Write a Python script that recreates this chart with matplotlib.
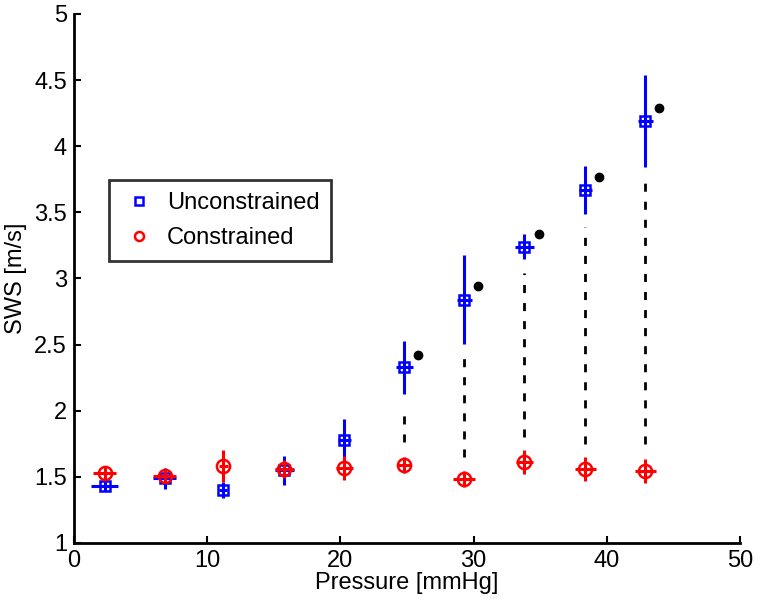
import matplotlib
matplotlib.use("Agg")
import matplotlib.pyplot as plt

plt.rcParams["font.family"] = ["Liberation Sans", "DejaVu Sans"]
plt.rcParams["lines.scale_dashes"] = False

# pressure positions [mmHg] and their spread
pressure = [2.3, 6.8, 11.2, 15.8, 20.3, 24.8, 29.3, 33.8, 38.4, 42.9]
unc_xerr = [1.0, 0.88, 0.3, 0.73, 0.46, 0.63, 0.56, 0.7, 0.46, 0.56]
con_xerr = [0.88, 0.85, 0.35, 0.7, 0.63, 0.5, 0.83, 0.63, 0.81, 0.79]

# SWS [m/s]
unc_sws = [1.43, 1.49, 1.40, 1.55, 1.78, 2.33, 2.84, 3.24, 3.67, 4.19]
unc_err = [0.04, 0.08, 0.06, 0.11, 0.16, 0.20, 0.335, 0.095, 0.18, 0.35]
con_sws = [1.53, 1.51, 1.58, 1.56, 1.57, 1.59, 1.486, 1.61, 1.557, 1.547]
con_err = [0.053, 0.05, 0.12, 0.07, 0.09, 0.06, 0.06, 0.09, 0.09, 0.09]

# significance markers and dashed connectors (points 6..10)
sig_x = [25.8, 30.3, 34.9, 39.4, 43.9]
sig_y = [2.42, 2.94, 3.34, 3.765, 4.29]
dash_x = [24.8, 29.3, 33.8, 38.4, 42.9]
dash_lo = [1.76, 1.65, 1.80, 1.75, 1.75]
dash_hi = [1.97, 2.41, 3.04, 3.39, 3.72]

xticks = [0, 10, 20, 30, 40, 50]
yticks = [1, 1.5, 2, 2.5, 3, 3.5, 4, 4.5, 5]
ytick_labels = ["1", "1.5", "2", "2.5", "3", "3.5", "4", "4.5", "5"]

FS = 17

fig = plt.figure(figsize=(7.62, 6.05), dpi=100)
ax = fig.add_axes([0.0971, 0.1025, 0.874, 0.8744])

for x, lo, hi in zip(dash_x, dash_lo, dash_hi):
    ax.plot([x, x], [lo, hi], color="black", lw=2, dashes=(5.8, 7.2), zorder=1)

ax.errorbar(pressure, unc_sws, yerr=unc_err, xerr=unc_xerr, fmt="s",
            color="blue", mfc="none", mec="blue", ms=7, mew=1.8,
            elinewidth=2.2, capsize=0, zorder=2)
ax.errorbar(pressure, con_sws, yerr=con_err, xerr=con_xerr, fmt="o",
            color="red", mfc="none", mec="red", ms=9.5, mew=1.8,
            elinewidth=2.2, capsize=0, zorder=3)
ax.plot(sig_x, sig_y, "o", color="black", ms=6, zorder=4)

# legend proxies
h1, = ax.plot([], [], "s", mfc="none", mec="blue", ms=6, mew=1.8,
              label="Unconstrained")
h2, = ax.plot([], [], "o", mfc="none", mec="red", ms=6.5, mew=1.8,
              label="Constrained")
leg = ax.legend(handles=[h1, h2], loc="upper left",
                bbox_to_anchor=(0.0526, 0.686), fontsize=FS,
                frameon=True, fancybox=False, borderpad=0.5,
                handlelength=1.5, handletextpad=0.45, labelspacing=0.55,
                borderaxespad=0)
leg.get_frame().set_edgecolor("black")
leg.get_frame().set_linewidth(2)

ax.set_xlim(0, 50)
ax.set_ylim(1, 5)
ax.set_xticks(xticks)
ax.set_yticks(yticks)
ax.set_yticklabels(ytick_labels)
ax.tick_params(direction="in", length=5, width=1.5, labelsize=FS, pad=5)
for side in ("top", "right"):
    ax.spines[side].set_visible(False)
for side in ("left", "bottom"):
    ax.spines[side].set_linewidth(2)

ax.set_xlabel("Pressure [mmHg]", fontsize=FS, labelpad=0)
ax.set_ylabel("SWS [m/s]", fontsize=FS, labelpad=5)

fig.savefig("out.png", dpi=100)
